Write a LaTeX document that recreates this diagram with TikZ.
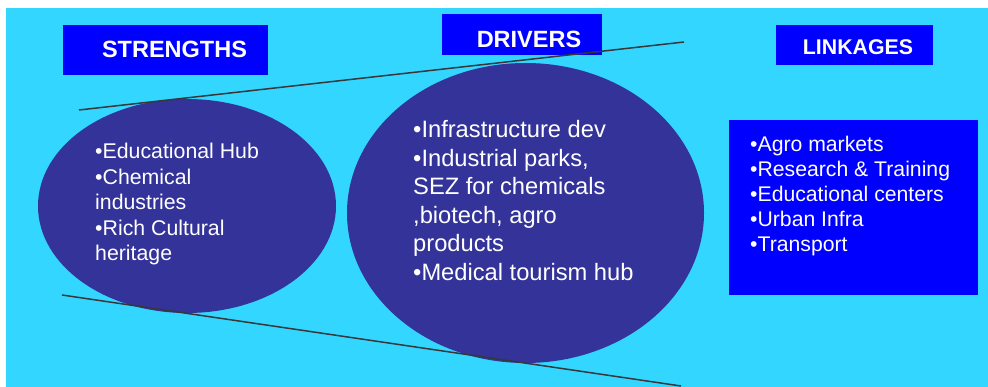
\documentclass[tikz,border=0pt]{standalone}
\usepackage{fontspec}
\setmainfont{Liberation Sans}
\usetikzlibrary{shapes.geometric}
\definecolor{bgcyan}{RGB}{51,214,255}
\definecolor{boxblue}{RGB}{0,0,255}
\definecolor{ellblue}{RGB}{51,51,153}
\definecolor{linegray}{RGB}{55,55,55}
\tikzset{
  hdrbox/.style={fill=boxblue, draw=none, inner sep=0pt},
  hdrtext/.style={text=white, inner sep=0pt, anchor=base, font=\bfseries\fontsize{23.5}{28}\selectfont},
  ell/.style={ellipse, fill=ellblue, draw=none, inner sep=0pt},
  bodytext/.style={text=white, inner sep=0pt, anchor=base west, align=left},
  tangent/.style={draw=linegray, line width=1.5pt}
}
\begin{document}
\begin{tikzpicture}[x=1pt,y=-1pt]
\useasboundingbox (0,0) rectangle (988,387);
\fill[white] (0,0) rectangle (988,387);
\fill[bgcyan] (6,8) rectangle (988,387);
% ellipses
\node[ell, minimum width=298pt, minimum height=214pt] (strell) at (187,206) {};
\node[ell, minimum width=357pt, minimum height=300pt] (drvell) at (525.5,213) {};
% header boxes
\node[hdrbox, minimum width=205pt, minimum height=50pt] (strbox) at (165.5,50) {};
\node[hdrbox, minimum width=160pt, minimum height=41pt] (drvbox) at (522,34.5) {};
\node[hdrbox, minimum width=157pt, minimum height=40pt] (lnkbox) at (854.5,45) {};
\node[hdrtext] (strtxt) at (174.5,58) {STRENGTHS};
\node[hdrtext] (drvtxt) at (529,48) {DRIVERS};
\node[hdrtext, font=\bfseries\fontsize{21.3}{25}\selectfont] (lnktxt) at (858,55) {LINKAGES};
% linkages box
\node[hdrbox, minimum width=249pt, minimum height=175pt] (lnkcontent) at (853.5,207.5) {};
% texts (base anchor = baseline of last line)
\node[bodytext, font=\fontsize{21.3}{25.5}\selectfont] (strlist) at (95,261)
  {•Educational Hub\\•Chemical\\industries\\•Rich Cultural\\heritage};
\node[bodytext, font=\fontsize{23.7}{28.5}\selectfont] (drvlist) at (413,280.5)
  {•Infrastructure dev\\•Industrial parks,\\SEZ for chemicals\\,biotech, agro\\products\\•Medical tourism hub};
\node[bodytext, font=\fontsize{21.2}{25.2}\selectfont] (lnklist) at (750,252)
  {•Agro markets\\•Research \& Training\\•Educational centers\\•Urban Infra\\•Transport};
% tangent lines
\coordinate (ua) at (79,110);
\coordinate (ub) at (684,42);
\coordinate (la) at (62,295);
\coordinate (lb) at (681,386);
\draw[tangent] (ua) -- (ub);
\draw[tangent] (la) -- (lb);
\end{tikzpicture}
\end{document}
